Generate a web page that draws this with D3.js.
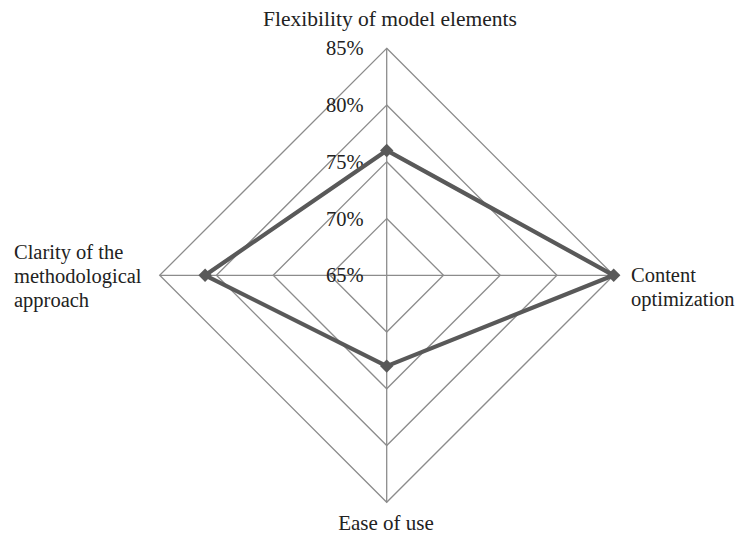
<!DOCTYPE html>
<html><head><meta charset="utf-8">
<script src="https://cdn.jsdelivr.net/npm/d3@7"></script>
<style>html,body{margin:0;padding:0;background:#fff;} text{font-family:"Liberation Serif","Times New Roman",Times,serif;}</style>
</head><body>
<svg id="c" width="738" height="534"></svg>
<script>
const categories = ["Flexibility of model elements", "Content optimization", "Ease of use", "Clarity of the methodological approach"];
const values = [0.76, 0.85, 0.73, 0.81];
const ticks = [0.65, 0.70, 0.75, 0.80, 0.85];
const tickLabels = ["65%", "70%", "75%", "80%", "85%"];

const svg = d3.select("#c");
const cx = 386.7, cy = 275.3, R = 227;
const r = d3.scaleLinear().domain([0.65, 0.85]).range([0, R]);
const ang = d3.scalePoint().domain(d3.range(categories.length)).range([0, 2*Math.PI*(categories.length-1)/categories.length]);
const pt = (i, v) => [cx + r(v)*Math.sin(ang(i)), cy - r(v)*Math.cos(ang(i))];

const g = svg.append("g");
// rings
ticks.slice(1).forEach(t => {
  g.append("path")
    .attr("d", d3.line()(categories.map((c,i)=>pt(i,t))) + "Z")
    .attr("fill","none").attr("stroke","#8c8c8c").attr("stroke-width",1.3);
});
// spokes
categories.forEach((c,i)=>{
  const p = pt(i, 0.85);
  g.append("line").attr("x1",cx).attr("y1",cy).attr("x2",p[0]).attr("y2",p[1])
    .attr("stroke","#8c8c8c").attr("stroke-width",1.3);
});
// tick labels
ticks.forEach((t,k)=>{
  g.append("text").attr("x", cx-23).attr("y", cy - r(t)).attr("dy","0.35em")
    .attr("text-anchor","end").attr("font-size",20.5).attr("fill","#222")
    .text(tickLabels[k]);
});
// series
const pts = values.map((v,i)=>pt(i,v));
g.append("path").attr("d", d3.line()(pts)+"Z").attr("fill","none")
  .attr("stroke","#595959").attr("stroke-width",4.2).attr("stroke-linejoin","round");
g.selectAll(".m").data(pts).enter().append("path")
  .attr("transform", d=>`translate(${d[0]},${d[1]})`)
  .attr("d", d3.symbol().type(d3.symbolDiamond2).size(115))
  .attr("fill","#595959");
// category labels
const lab = (lines, x, y, anchor, fs) => {
  const t = g.append("text").attr("font-size",fs).attr("fill","#222").attr("text-anchor",anchor);
  lines.forEach((l,k)=>t.append("tspan").attr("x",x).attr("y",y+k*24).text(l));
};
lab([categories[0]], 390, 26, "middle", 21.5);
lab(["Content","optimization"], 631, 282, "start", 20.5);
lab([categories[2]], 386, 530, "middle", 21);
lab(["Clarity of the","methodological","approach"], 14, 259, "start", 20.5);
</script>
</body></html>
